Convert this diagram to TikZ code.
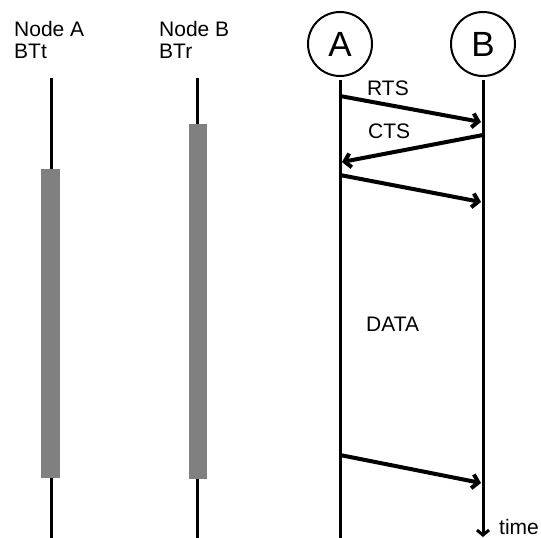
\documentclass[tikz,border=0pt]{standalone}
\usepackage{fontspec}
\setmainfont{Liberation Sans}
\usetikzlibrary{arrows.meta}
\begin{document}
\begin{tikzpicture}[x=1pt,y=-1pt,
  lbl/.style={anchor=base west,inner sep=0pt,font=\fontsize{21}{23}\selectfont},
  ent/.style={draw,circle,line width=2pt,minimum size=64pt,inner sep=0pt,font=\fontsize{35}{37}\selectfont},
  life/.style={line width=3pt},
  msg/.style={line width=4pt,-{Straight Barb[length=6pt,width=14pt]}},
  bar/.style={fill=gray,draw=none}]
\useasboundingbox (0,0) rectangle (541,538);
% left timelines
\node[lbl] (na) at (14,36) {Node A};
\node[lbl] (nat) at (14,58) {BTt};
\node[lbl] (nb) at (159,36) {Node B};
\node[lbl] (nbt) at (159,58) {BTr};
\coordinate (a1) at (51,78); \coordinate (a2) at (51,538);
\coordinate (b1) at (197,78); \coordinate (b2) at (197,538);
\draw[life] (a1) -- (a2);
\draw[life] (b1) -- (b2);
\fill[bar] (41,169) rectangle (60,478);
\fill[bar] (189,124) rectangle (207,479);
% sequence diagram
\node[ent] (A) at (340,44) {A};
\node[ent] (B) at (483,44) {B};
\coordinate (Abot) at (340,538);
\coordinate (Bbot) at (483,537);
\draw[life] (340,80) -- (Abot);
\draw[life,-{Straight Barb[length=5pt,width=12pt]}] (483,80) -- (Bbot);
\node[lbl,anchor=base west] (time) at (499,534) {time};
\coordinate (r1) at (340,96); \coordinate (r2) at (481,122);
\coordinate (c1) at (483,135); \coordinate (c2) at (342,162);
\coordinate (d1) at (340,175); \coordinate (d2) at (481,202);
\coordinate (e1) at (340,455); \coordinate (e2) at (481,483);
\draw[msg] (r1) -- (r2);
\draw[msg] (c1) -- (c2);
\draw[msg] (d1) -- (d2);
\draw[msg] (e1) -- (e2);
\node[lbl] (rts) at (367,95) {RTS};
\node[lbl] (cts) at (368,138) {CTS};
\node[lbl] (data) at (366,331) {DATA};
\end{tikzpicture}
\end{document}
